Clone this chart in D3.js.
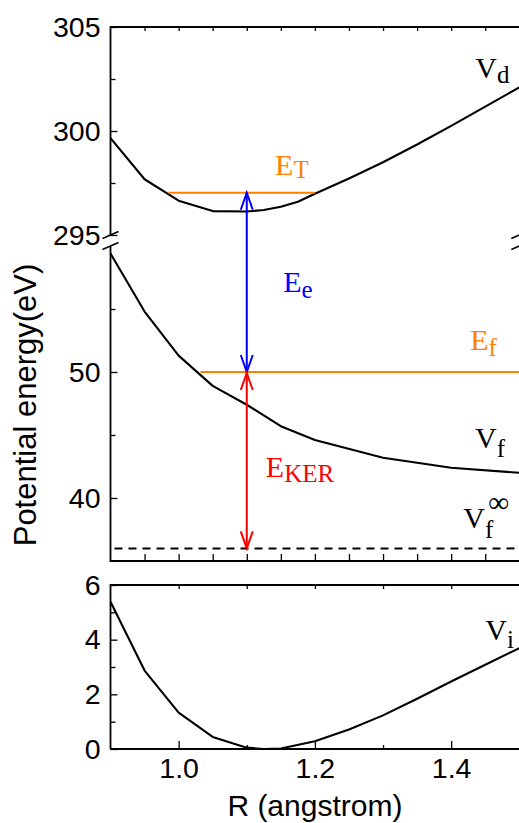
<!DOCTYPE html>
<html>
<head>
<meta charset="utf-8">
<script src="https://cdn.jsdelivr.net/npm/d3@7"></script>
<style>
  body { margin: 0; background: #fff; }
  svg { display: block; }
  .tick text { font-family: "Liberation Sans", Arial, sans-serif; font-size: 28.5px; fill: #000; }
  .note { font-family: "Liberation Serif", "Times New Roman", serif; font-size: 30px; }
</style>
</head>
<body>
<div id="chart"></div>
<script>
// R grid (angstrom) and potential curves
const rD = [0.9, 0.95, 1.0, 1.05, 1.1, 1.125, 1.15, 1.175, 1.2, 1.25, 1.3, 1.35, 1.4, 1.45, 1.5];
const vD = [299.66, 297.68, 296.65, 296.15, 296.13, 296.2, 296.36, 296.6, 296.98, 297.72, 298.5, 299.35, 300.25, 301.17, 302.1];

const rF = [0.9, 0.95, 1.0, 1.05, 1.1, 1.15, 1.2, 1.3, 1.4, 1.5];
const vF = [59.4, 54.8, 51.3, 48.9, 47.4, 45.7, 44.6, 43.2, 42.4, 42.0];

const rI = [0.9, 0.95, 1.0, 1.05, 1.1, 1.125, 1.15, 1.2, 1.25, 1.3, 1.35, 1.4, 1.45, 1.5];
const vI = [5.39, 2.87, 1.33, 0.44, 0.05, 0.0, 0.02, 0.28, 0.71, 1.23, 1.84, 2.47, 3.08, 3.69];

// energy levels
const eT = 297.03, eTRange = [0.985, 1.2];
const eF = 50, eFRange = [1.032, 1.5];
const vInf = 36;
const rArrow = 1.1;

// ticks
const xTicks = [1.0, 1.2, 1.4];
const topTicks = [295, 300, 305];
const midTicks = [40, 50];
const botTicks = [0, 2, 4, 6];

const W = 519, H = 823;
const svg = d3.select("#chart").append("svg").attr("width", W).attr("height", H);

const x = d3.scaleLinear().domain([0.9, 1.5]).range([110.5, 519.3]);
const yTop = d3.scaleLinear().domain([295, 305]).range([235, 27]);
const yMid = d3.scaleLinear().domain([35, 60]).range([561, 246]);
const yBot = d3.scaleLinear().domain([0, 6]).range([749, 585]);

const ORANGE = "#ff8000";

function minor(step, lo, hi) {
    return d3.range(Math.round(lo / step), Math.round(hi / step) + 1).map(i => +(i * step).toFixed(4));
}

function axisG(axis, tx, ty) {
    const g = svg.append("g").attr("transform", `translate(${tx},${ty})`).call(axis);
    g.select(".domain").remove();
    g.selectAll(".tick line").attr("stroke", "#000").attr("stroke-width", 1.3);
    return g;
}

// --- y axes (inward ticks) ---
const left = x.range()[0];
axisG(d3.axisLeft(yTop).tickValues([297.5, 302.5]).tickSize(-5).tickFormat(""), left, 0);
axisG(d3.axisLeft(yTop).tickValues(topTicks).tickSize(-7).tickPadding(10).tickFormat(d3.format("d")), left, 0);
axisG(d3.axisLeft(yMid).tickValues([45, 55]).tickSize(-5).tickFormat(""), left, 0);
axisG(d3.axisLeft(yMid).tickValues(midTicks).tickSize(-7).tickPadding(10).tickFormat(d3.format("d")), left, 0);
axisG(d3.axisLeft(yBot).tickValues([1, 3, 5]).tickSize(-5).tickFormat(""), left, 0);
axisG(d3.axisLeft(yBot).tickValues(botTicks).tickSize(-7).tickPadding(10).tickFormat(d3.format("d")), left, 0);

// --- x axes ---
const xStep = minor(0.05, 0.95, 1.45);
axisG(d3.axisTop(x).tickValues(xStep).tickSize(-4).tickFormat(""), 0, yTop(305));
axisG(d3.axisBottom(x).tickValues(xStep).tickSize(-7).tickFormat(""), 0, yMid(35));
axisG(d3.axisTop(x).tickValues(minor(0.1, 1.0, 1.4)).tickSize(-4).tickFormat(""), 0, yBot(6));
axisG(d3.axisBottom(x).tickValues([1.1, 1.3]).tickSize(-4).tickFormat(""), 0, yBot(0));
axisG(d3.axisBottom(x).tickValues(xTicks).tickSize(-8).tickPadding(9).tickFormat(d3.format(".1f")), 0, yBot(0));

// --- frames ---
const frame = svg.append("g").attr("stroke", "#000").attr("stroke-width", 1.8).attr("fill", "none");
const right = x.range()[1];
frame.append("path").attr("d", `M${left},${yTop(295)}V${yTop(305)}H${right}`);
frame.append("path").attr("d", `M${left},${yMid(60)}V${yMid(35)}H${right}`);
frame.append("path").attr("d", `M${left},${yBot(0)}V${yBot(6)}H${right}M${left},${yBot(0)}H${right}`);

// break marks
const brk = svg.append("g").attr("stroke", "#000").attr("stroke-width", 1.5);
[left, right].forEach(bx => {
    [yTop(295), yMid(60)].forEach(by => {
        brk.append("line").attr("x1", bx - 8).attr("y1", by + 3.5).attr("x2", bx + 8).attr("y2", by - 3.5);
    });
});

// --- curves ---
function curve(rs, vs, y) {
    svg.append("path")
        .datum(d3.zip(rs, vs))
        .attr("fill", "none").attr("stroke", "#000").attr("stroke-width", 2.1)
        .attr("stroke-linejoin", "round")
        .attr("d", d3.line().x(d => x(d[0])).y(d => y(d[1])));
}
curve(rD, vD, yTop);
curve(rF, vF, yMid);
curve(rI, vI, yBot);

// levels
svg.append("line").attr("x1", x(eTRange[0])).attr("x2", x(eTRange[1]))
    .attr("y1", yTop(eT)).attr("y2", yTop(eT)).attr("stroke", ORANGE).attr("stroke-width", 2);
svg.append("line").attr("x1", x(eFRange[0])).attr("x2", x(eFRange[1]))
    .attr("y1", yMid(eF)).attr("y2", yMid(eF)).attr("stroke", ORANGE).attr("stroke-width", 2);
svg.append("line").attr("x1", left).attr("x2", right)
    .attr("y1", yMid(vInf)).attr("y2", yMid(vInf))
    .attr("stroke", "#000").attr("stroke-width", 2).attr("stroke-dasharray", "8,6").attr("stroke-dashoffset", -4);

// double arrows with open heads
function arrow(xp, y1, y2, color) {
    const g = svg.append("g").attr("stroke", color).attr("stroke-width", 2).attr("fill", "none");
    g.append("line").attr("x1", xp).attr("x2", xp).attr("y1", y1).attr("y2", y2);
    const hl = 17, hw = 6;
    g.append("path").attr("d", `M${xp - hw},${y1 + hl}L${xp},${y1}L${xp + hw},${y1 + hl}`);
    g.append("path").attr("d", `M${xp - hw},${y2 - hl}L${xp},${y2}L${xp + hw},${y2 - hl}`);
}
arrow(x(rArrow), yTop(eT), yMid(eF), "#0000ff");
arrow(x(rArrow), yMid(eF) + 1, yMid(vInf), "#ff0000");

// --- annotations ---
function note(r, v, y, main, sub, color, shift, sup) {
    const t = svg.append("text").attr("class", "note").attr("fill", color)
        .attr("x", x(r)).attr("y", y(v));
    t.append("tspan").text(main);
    t.append("tspan").attr("font-size", 25).attr("dy", shift).text(sub);
    // superscript stacked over the subscript
    if (sup) t.append("tspan").attr("font-size", 29).attr("dx", -5).attr("dy", -26).text(sup);
}
note(1.4354, 302.55, yTop, "V", "d", "#000", 5);
note(1.1416, 297.885, yTop, "E", "T", ORANGE, 3);
note(1.1534, 56.35, yMid, "E", "e", "#0000ff", 6);
note(1.428, 51.75, yMid, "E", "f", ORANGE, 6);
note(1.435, 43.97, yMid, "V", "f", "#000", 9);
note(1.128, 41.67, yMid, "E", "KER", "#ff0000", 5);
note(1.4178, 37.62, yMid, "V", "f", "#000", 10, "∞");
note(1.45, 3.99, yBot, "V", "i", "#000", 8);

// axis titles
svg.append("text").attr("x", (left + right) / 2).attr("y", 816)
    .attr("text-anchor", "middle")
    .style("font-family", "'Liberation Sans', Arial, sans-serif").style("font-size", "30px")
    .text("R (angstrom)");
svg.append("text").attr("transform", "translate(36,405) rotate(-90)")
    .attr("text-anchor", "middle")
    .style("font-family", "'Liberation Sans', Arial, sans-serif").style("font-size", "31px")
    .text("Potential energy(eV)");
</script>
</body>
</html>
